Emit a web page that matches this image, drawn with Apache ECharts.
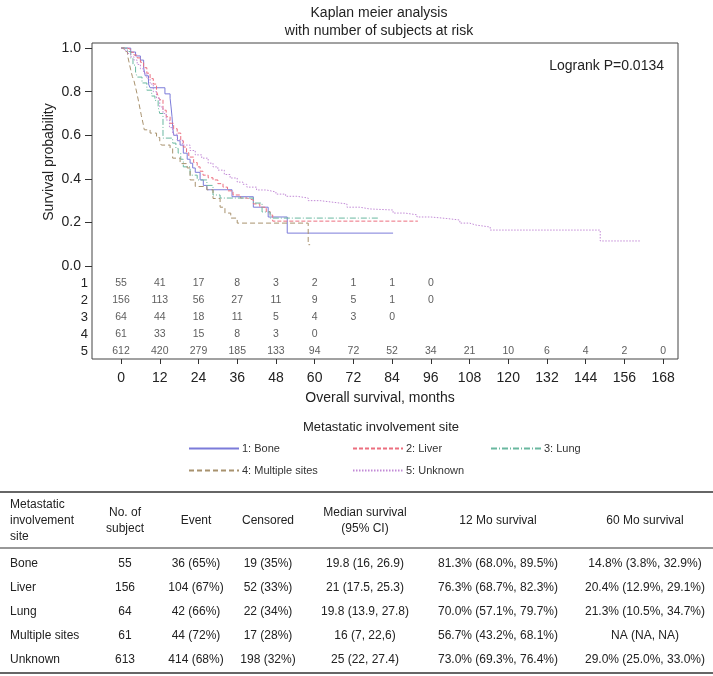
<!DOCTYPE html>
<html><head><meta charset="utf-8">
<script src="https://cdn.jsdelivr.net/npm/echarts@6/dist/echarts.min.js"></script>
<style>html,body{margin:0;padding:0;background:#fff}#c{width:713px;height:676px}</style>
</head><body><div id="c"></div>
<script>
// ---------- DATA ----------
const seriesNames = ['1: Bone', '2: Liver', '3: Lung', '4: Multiple sites', '5: Unknown'];
const boneKM = [[0,1],[3,0.982],[4.5,0.964],[6,0.945],[7,0.909],[7.5,0.873],[8.5,0.836],[9,0.818],[13.6,0.79],[15.2,0.77],[15.5,0.73],[15.8,0.685],[16,0.64],[16.3,0.6],[17.5,0.575],[18.3,0.555],[19.3,0.518],[20.5,0.49],[21.4,0.472],[22.2,0.45],[23,0.43],[24.5,0.395],[25.5,0.37],[26.6,0.35],[34.4,0.318],[41,0.27],[45.6,0.225],[51.5,0.151],[84.3,0.151]];
const liverKM = [[0,1],[2,0.994],[3,0.981],[4,0.968],[5,0.955],[6,0.935],[7,0.91],[8,0.885],[9,0.86],[10,0.835],[11,0.8],[11.5,0.78],[12,0.763],[13,0.715],[14,0.685],[15.2,0.655],[16.3,0.63],[17.4,0.61],[18.5,0.575],[19.3,0.546],[20.3,0.52],[21,0.5],[22.5,0.475],[23.6,0.455],[24.5,0.435],[25.4,0.417],[27,0.405],[28.5,0.395],[30,0.378],[31.6,0.362],[33,0.345],[34.7,0.326],[37,0.312],[39,0.303],[41,0.285],[43,0.27],[45,0.25],[46.2,0.234],[47,0.206],[92,0.206]];
const lungKM = [[0,1],[2,0.984],[3,0.953],[3.7,0.922],[4.5,0.89],[5,0.867],[6.5,0.84],[8,0.807],[9.5,0.78],[10.5,0.76],[11.5,0.73],[12,0.7],[13,0.587],[16,0.564],[17,0.54],[17.7,0.518],[18.5,0.49],[19.3,0.455],[21.4,0.417],[23.6,0.395],[26.6,0.37],[28.5,0.326],[30.7,0.312],[41,0.289],[43.7,0.248],[46.2,0.22],[80,0.22]];
const multipleKM = [[0,1],[1,0.984],[2,0.967],[2.5,0.934],[3,0.9],[3.5,0.87],[4,0.85],[4.5,0.82],[5,0.787],[5.5,0.75],[5.9,0.72],[6.3,0.69],[6.8,0.656],[7.2,0.625],[9,0.61],[11,0.59],[12,0.567],[12.5,0.555],[15.2,0.54],[16,0.495],[18.3,0.47],[20.5,0.45],[21.4,0.395],[23,0.365],[26.6,0.35],[28.5,0.31],[30.7,0.27],[32.2,0.243],[34,0.22],[36,0.197],[58,0.098],[58.6,0.098]];
const unknownKM = [[0,1],[1,0.99],[2,0.975],[3,0.96],[4,0.945],[5,0.925],[6,0.905],[7,0.885],[8,0.86],[9,0.835],[10,0.8],[11,0.77],[12,0.73],[13,0.7],[14,0.67],[15,0.635],[16,0.605],[17.4,0.578],[19,0.555],[21.4,0.53],[23,0.51],[25,0.495],[27,0.472],[28.5,0.455],[30,0.44],[32,0.42],[33.8,0.404],[36,0.385],[37.8,0.375],[39,0.362],[42,0.349],[45,0.34],[48,0.33],[51,0.32],[54.5,0.312],[58,0.3],[61.7,0.294],[65,0.285],[70,0.27],[74,0.262],[77,0.257],[84.3,0.243],[88,0.235],[91.7,0.225],[96,0.218],[101,0.211],[105,0.197],[108,0.188],[110,0.179],[114.4,0.165],[148.5,0.115],[161,0.115]];

const monthTicks = [0,12,24,36,48,60,72,84,96,108,120,132,144,156,168];
const survTicks = [0,0.2,0.4,0.6,0.8,1.0];
const riskRows = ['1','2','3','4','5'];
const riskBone = [55,41,17,8,3,2,1,1,0];
const riskLiver = [156,113,56,27,11,9,5,1,0];
const riskLung = [64,44,18,11,5,4,3,0];
const riskMultiple = [61,33,15,8,3,0];
const riskUnknown = [612,420,279,185,133,94,72,52,34,21,10,6,4,2,0];

const tableHeader = [['Metastatic','involvement','site'],['No. of','subject'],['Event'],['Censored'],['Median survival','(95% CI)'],['12 Mo survival'],['60 Mo survival']];
const siteNames = ['Bone','Liver','Lung','Multiple sites','Unknown'];
const nSubject = ['55','156','64','61','613'];
const events = ['36 (65%)','104 (67%)','42 (66%)','44 (72%)','414 (68%)'];
const censored = ['19 (35%)','52 (33%)','22 (34%)','17 (28%)','198 (32%)'];
const medianSurv = ['19.8 (16, 26.9)','21 (17.5, 25.3)','19.8 (13.9, 27.8)','16 (7, 22,6)','25 (22, 27.4)'];
const surv12 = ['81.3% (68.0%, 89.5%)','76.3% (68.7%, 82.3%)','70.0% (57.1%, 79.7%)','56.7% (43.2%, 68.1%)','73.0% (69.3%, 76.4%)'];
const surv60 = ['14.8% (3.8%, 32.9%)','20.4% (12.9%, 29.1%)','21.3% (10.5%, 34.7%)','NA (NA, NA)','29.0% (25.0%, 33.0%)'];

// ---------- STYLE ----------
const FONT = '"Liberation Sans", Arial, sans-serif';
const TXT = '#222';
const colors = ['#7b7bd9','#ec6f7f','#6ab8a0','#a8926e','#c28ad6'];
const dashes = ['solid',[4,2],[6,2,1,2],[5,3],[1.5,1.5]];
const kmData = [boneKM, liverKM, lungKM, multipleKM, unknownKM];
const riskData = [riskBone, riskLiver, riskLung, riskMultiple, riskUnknown];

const series = kmData.map((d,i)=>({
  name: seriesNames[i], type:'line', step:'end', data:d, xAxisIndex:0, yAxisIndex:0,
  symbol:'none', showSymbol:false, silent:true, animation:false,
  lineStyle:{color:colors[i], width:1, type:dashes[i]}, itemStyle:{color:colors[i]}, z:3
}));
const riskPts = [];
riskData.forEach((arr,i)=>arr.forEach((v,j)=>riskPts.push([monthTicks[j], riskRows[i], v])));
series.push({
  type:'scatter', xAxisIndex:1, yAxisIndex:1, data:riskPts, symbolSize:1, silent:true, animation:false,
  itemStyle:{color:'rgba(0,0,0,0)'},
  label:{show:true, position:'inside', formatter:p=>String(p.value[2]), fontSize:10.5, color:'#333', fontFamily:FONT}
});

// text / table graphics
const colX = [10,125,196,268,365,498,645];
const colAlign = ['left','center','center','center','center','center','center'];
const graphics = [];
function txt(x,y,s,size,align,extra){ graphics.push(Object.assign({type:'text', x:x, y:y, silent:true,
  style:{text:s, fontSize:size, fontFamily:FONT, fill:TXT, align:align||'center', verticalAlign:'middle'}}, extra||{})); }
function hline(y,w){ graphics.push({type:'line', silent:true, shape:{x1:0,y1:y,x2:713,y2:y}, style:{stroke:'#333', lineWidth:w}}); }

txt(379,13,'Kaplan meier analysis',14);
txt(379,31,'with number of subjects at risk',14);
txt(664,66,'Logrank P=0.0134',14,'right');
txt(49,162,'Survival probability',14,'center',{rotation:Math.PI/2});
txt(380,398,'Overall survival, months',14);
txt(381,427,'Metastatic involvement site',13);

hline(492,1.5); hline(548,1.2); hline(673,1.5);
tableHeader.forEach((lines,c)=>{
  const h = 16; const y0 = 521 - (lines.length-1)*h/2;
  lines.forEach((s,k)=>txt(colX[c], y0+k*h, s, 12, colAlign[c]));
});
const cols = [siteNames,nSubject,events,censored,medianSurv,surv12,surv60];
const rowY = [564,588,612,636,660];
cols.forEach((col,c)=>col.forEach((s,r)=>txt(colX[c], rowY[r], s, 12, colAlign[c])));

const legendPos = [[183,438],[347,438],[485,438],[183,460],[347,460]];
const legends = seriesNames.map((n,i)=>({
  data:[n], left:legendPos[i][0], top:legendPos[i][1], itemWidth:50, itemHeight:12, itemGap:4,
  selectedMode:false, itemStyle:{opacity:0},
  textStyle:{fontSize:11, color:'#333', fontFamily:FONT, padding:[0,0,0,-2]}
}));

const option = {
  animation:false,
  textStyle:{fontFamily:FONT},
  grid:[
    {left:92, top:43, width:586, height:316, show:true, borderColor:'#444', borderWidth:1, backgroundColor:'transparent'},
    {left:92, top:274.5, width:586, height:85, show:false}
  ],
  xAxis:[
    {type:'value', gridIndex:0, position:'bottom', min:-9, max:172.6, splitLine:{show:false}, axisLine:{show:false, onZero:false},
     axisTick:{show:true, length:5, customValues:monthTicks, lineStyle:{color:'#333'}},
     axisLabel:{show:true, customValues:monthTicks, fontSize:14, color:TXT, margin:12, fontFamily:FONT}},
    {type:'value', gridIndex:1, min:-9, max:172.6, show:false, axisLine:{onZero:false}}
  ],
  yAxis:[
    {type:'value', gridIndex:0, position:'left', min:-0.4266, max:1.0234, splitLine:{show:false}, axisLine:{show:false, onZero:false},
     axisTick:{show:true, length:7, customValues:survTicks, lineStyle:{color:'#333'}},
     axisLabel:{show:true, customValues:survTicks, fontSize:14, color:TXT, margin:11, fontFamily:FONT, formatter:v=>v.toFixed(1)}},
    {type:'category', gridIndex:1, data:riskRows, inverse:true, axisLine:{show:false, onZero:false}, axisTick:{show:false},
     axisLabel:{fontSize:13, color:TXT, margin:4, fontFamily:FONT}}
  ],
  legend: legends,
  series: series,
  graphic: graphics
};
const chart = echarts.init(document.getElementById('c'), null, {renderer:'canvas'});
chart.setOption(option);
</script>
</body></html>
